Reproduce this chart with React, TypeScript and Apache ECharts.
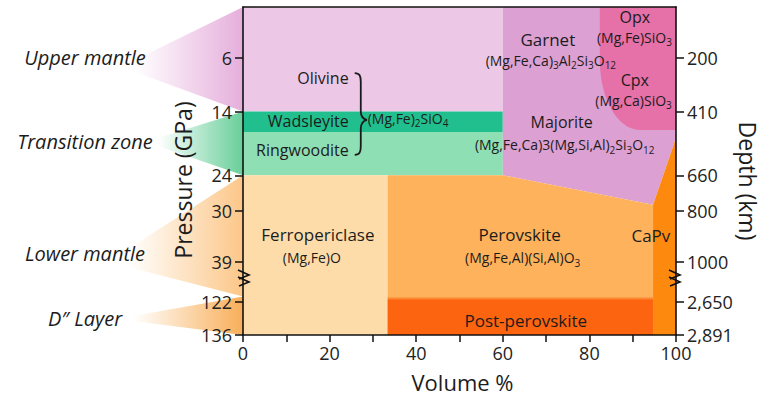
import React, { useEffect, useRef } from "react";
import * as echarts from "echarts";

// ---------------- Data ----------------
const volumeMin = 0;
const volumeMax = 100;
const volumeStep = 10;
const volumeLabelStep = 20;

const depthTicks = [200, 410, 660, 800, 1000, 2650, 2891];
const depthTickLabels = ["200", "410", "660", "800", "1000", "2,650", "2,891"];
const pressureTickLabels = ["6", "14", "24", "30", "39", "122", "136"];

// depth axis break (km)
const breakFrom = 1000;
const breakTo = 2650;
const cmbDepth = 2891;

// phase boundaries: [volume %, depth km]
const olivinePts = [[0, 0], [60, 0], [60, 410], [0, 410]];
const wadsleyitePts = [[0, 410], [60, 410], [60, 490], [0, 490]];
const ringwooditePts = [[0, 490], [60, 490], [60, 660], [0, 660]];
const garnetPts = [[60, 0], [100, 0], [100, 514], [94.7, 776], [60, 660]];
const pyroxeneBox = [[82.4, 0], [100, 482]];
const ferropericlasePts = [[0, 660], [33.4, 660], [33.4, 2891], [0, 2891]];
const perovskitePts = [[33.4, 660], [60, 660], [94.7, 776], [94.7, 2891], [33.4, 2891]];
const caPvPts = [[94.7, 776], [100, 514], [100, 2891], [94.7, 2891]];
const postPerovskiteBox = [[33.4, 2420], [94.7, 2891]];

const layerNames = ["Upper mantle", "Transition zone", "Lower mantle", "D\u2033 Layer"];
const layerRanges = [[0, 410], [410, 660], [660, 2420], [2420, 2891]];

// ---------------- Layout / style ----------------
const FONT = '"Open Sans", "Noto Sans", sans-serif';
const TXT = "#1c1c1c";
const BREAK_UNITS = 157;
const LOWER_SCALE = 0.537;

function toU(d: number): number {
  if (d <= breakFrom) return d;
  if (d < breakTo) return breakFrom + ((d - breakFrom) / (breakTo - breakFrom)) * BREAK_UNITS;
  return breakFrom + BREAK_UNITS + (d - breakTo) * LOWER_SCALE;
}
const U_MAX = toU(cmbDepth);
const tickU = depthTicks.map(toU);
function nearestIdx(v: number) {
  let best = 0;
  tickU.forEach((t, i) => {
    if (Math.abs(t - v) < Math.abs(tickU[best] - v)) best = i;
  });
  return best;
}

const C = {
  olivine: "#ecc8e6",
  wadsleyite: "#22bf8e",
  ringwoodite: "#8edfb4",
  garnet: "#dda0d2",
  pyroxene: "#e670a8",
  fp: "#fedcaa",
  pv: "#fdb25b",
  ppv: "#fd6410",
  capv: "#fd8a0e",
};

const regions: any[] = [
  { pts: olivinePts, fill: C.olivine },
  { pts: wadsleyitePts, fill: C.wadsleyite },
  { pts: ringwooditePts, fill: C.ringwoodite },
  { pts: garnetPts, fill: C.garnet },
  { box: pyroxeneBox, fill: C.pyroxene, corner: [40, 70] },
  { pts: ferropericlasePts, fill: C.fp },
  { pts: perovskitePts, fill: C.pv },
  { pts: caPvPts, fill: C.capv },
  { box: postPerovskiteBox, grad: true },
];

const rich = {
  n: { fontSize: 14, lineHeight: 20, fontFamily: FONT, fill: TXT },
  s: { fontSize: 10, lineHeight: 9, verticalAlign: "bottom", fontFamily: FONT, fill: TXT },
  m: { fontSize: 16, lineHeight: 22, fontFamily: FONT, fill: TXT },
};

const labels: any[] = [
  { t: "{m|Olivine}", v: 24.4, d: 278, align: "right" },
  { t: "{m|Wadsleyite}", v: 24.4, d: 447, align: "right" },
  { t: "{m|Ringwoodite}", v: 24.4, d: 561, align: "right" },
  { t: "{n|(Mg,Fe)}{s|2}{n|SiO}{s|4}", v: 28.8, d: 437, align: "left" },
  { t: "{m|Garnet}", v: 70.4, d: 129, size: 17 },
  { t: "{n|(Mg,Fe,Ca)}{s|3}{n|Al}{s|2}{n|Si}{s|3}{n|O}{s|12}", v: 71.1, d: 208 },
  { t: "{m|Opx}", v: 90.5, d: 38 },
  { t: "{n|(Mg,Fe)SiO}{s|3}", v: 90.4, d: 118 },
  { t: "{m|Cpx}", v: 90.5, d: 286 },
  { t: "{n|(Mg,Ca)SiO}{s|3}", v: 90.2, d: 365 },
  { t: "{m|Majorite}", v: 73.6, d: 451 },
  { t: "{n|(Mg,Fe,Ca)3(Mg,Si,Al)}{s|2}{n|Si}{s|3}{n|O}{s|12}", v: 74.3, d: 541 },
  { t: "{b|Ferropericlase}", v: 17.3, d: 894 },
  { t: "{n|(Mg,Fe)O}", v: 15.9, d: 984 },
  { t: "{b|Perovskite}", v: 63.9, d: 894 },
  { t: "{n|(Mg,Fe,Al)(Si,Al)O}{s|3}", v: 64.6, d: 984 },
  { t: "{b|CaPv}", v: 94.2, d: 898 },
  { t: "{b|Post-perovskite}", v: 65.3, d: 2788 },
];
const braceBox = [[25.8, 259], [28.6, 580]];
const bracePath =
  "M0,0 C5,0 6,3 6,9 L6,38 C6,43 8,46 12,47 C8,48 6,51 6,56 L6,73 C6,79 5,82 0,82";

const axisCommon = {
  axisLine: { show: true, onZero: false, lineStyle: { color: "#111", width: 1.6 } },
  splitLine: { show: false },
  z: 10,
};

export default function App() {
  const ref = useRef<HTMLDivElement>(null);
  useEffect(() => {
    document.body.style.margin = "0";
    const chart = echarts.init(ref.current!, null, { renderer: "svg" });
    const yAxisBase = (pos: "left" | "right", texts: string[]) => ({
      type: "value",
      position: pos,
      min: 0,
      max: U_MAX,
      inverse: true,
      ...axisCommon,
      axisTick: {
        show: true,
        customValues: tickU,
        length: 8,
        lineStyle: { color: "#111", width: 1.5 },
      },
      axisLabel: {
        customValues: tickU,
        formatter: (v: number) => texts[nearestIdx(v)],
        fontSize: 18,
        fontFamily: FONT,
        color: "#222",
        margin: 11,
      },
    });
    const option: any = {
      animation: false,
      grid: { left: 243, right: 87, top: 7, bottom: 61, outerBoundsMode: "none" },
      xAxis: [
        {
          type: "value",
          min: volumeMin,
          max: volumeMax,
          interval: volumeStep,
          ...axisCommon,
          axisTick: { show: true, length: 7, lineStyle: { color: "#111", width: 1.5 } },
          axisLabel: {
            formatter: (v: number) => (v % volumeLabelStep === 0 ? String(v) : ""),
            fontSize: 18,
            fontFamily: FONT,
            color: "#222",
            margin: 9,
          },
        },
        {
          type: "value",
          position: "top",
          min: volumeMin,
          max: volumeMax,
          ...axisCommon,
          axisTick: { show: false },
          axisLabel: { show: false },
        },
      ],
      yAxis: [yAxisBase("left", pressureTickLabels), yAxisBase("right", depthTickLabels)],
      series: [
        {
          type: "custom",
          name: "phases",
          xAxisIndex: 0,
          yAxisIndex: 0,
          data: regions.map((_, i) => [i, 0]),
          renderItem: (params: any, api: any) => {
            const r = regions[params.dataIndex];
            if (r.pts) {
              const points = r.pts.map((p: number[]) => api.coord([p[0], toU(p[1])]));
              return { type: "polygon", shape: { points }, style: { fill: r.fill } };
            }
            const a = api.coord([r.box[0][0], toU(r.box[0][1])]);
            const b = api.coord([r.box[1][0], toU(r.box[1][1])]);
            if (r.corner) {
              const [rx, ry] = r.corner;
              const pts: number[][] = [
                [a[0], a[1]],
                [b[0], a[1]],
                [b[0], b[1]],
              ];
              for (let k = 0; k <= 24; k++) {
                const t = (Math.PI / 2) * (k / 24);
                pts.push([a[0] + rx - rx * Math.sin(t), b[1] - ry + ry * Math.cos(t)]);
              }
              return { type: "polygon", shape: { points: pts }, style: { fill: r.fill } };
            }
            return {
              type: "rect",
              shape: { x: a[0], y: a[1], width: b[0] - a[0], height: b[1] - a[1] },
              style: {
                fill: new echarts.graphic.LinearGradient(0, 0, 0, 1, [
                  { offset: 0, color: C.pv },
                  { offset: 0.1, color: C.ppv },
                  { offset: 1, color: C.ppv },
                ]),
              },
            };
          },
          silent: true,
        },
        {
          type: "custom",
          name: "labels",
          xAxisIndex: 0,
          yAxisIndex: 0,
          z: 5,
          data: labels.map((_, i) => [i, 0]).concat([[labels.length, 0]]),
          renderItem: (params: any, api: any) => {
            if (params.dataIndex === labels.length) {
              const a = api.coord([braceBox[0][0], toU(braceBox[0][1])]);
              const b = api.coord([braceBox[1][0], toU(braceBox[1][1])]);
              return {
                type: "path",
                shape: {
                  pathData: bracePath,
                  x: a[0],
                  y: a[1],
                  width: b[0] - a[0],
                  height: b[1] - a[1],
                  layout: "cover",
                },
                style: { fill: "none", stroke: "#1a1a1a", lineWidth: 1.8, strokeNoScale: true },
              };
            }
            const l = labels[params.dataIndex];
            const p = api.coord([l.v, toU(l.d)]);
            return {
              type: "text",
              x: p[0],
              y: p[1],
              style: {
                text: l.t,
                align: l.align || "center",
                verticalAlign: "middle",
                fontFamily: FONT,
                fill: TXT,
                rich: {
                  ...rich,
                  m: { ...rich.m, fontSize: l.size || 16 },
                  b: { fontSize: 17, lineHeight: 22, fontFamily: FONT, fill: TXT },
                },
              },
            };
          },
          silent: true,
        },
      ],
    };
    chart.setOption(option);

    const toPx = (v: number, d: number) =>
      chart.convertToPixel({ xAxisIndex: 0, yAxisIndex: 0 }, [v, toU(d)]) as number[];
    const x0 = toPx(0, 0)[0];
    const x1 = toPx(100, 0)[0];
    const yb = toPx(0, cmbDepth)[1];
    const fanColors = [
      [228, 170, 218],
      [96, 204, 148],
      [252, 196, 130],
      [248, 170, 80],
    ];
    const labelDepth = [200, 529, 965, 2767];
    const tipDx = [108, 85, 115, 110];
    const tipOff = [[2, 14], [-4, 4], [-4, 14], [-2, 3]];
    const graphic: any[] = [];
    layerNames.forEach((name, i) => {
      const yTop = toPx(0, layerRanges[i][0])[1];
      const yBot = toPx(0, layerRanges[i][1])[1];
      const ly = toPx(0, labelDepth[i])[1];
      const [r, g, b] = fanColors[i];
      graphic.push({
        type: "polygon",
        z: 1,
        silent: true,
        shape: {
          points: [
            [x0, yTop],
            [x0, yBot],
            [x0 - tipDx[i], ly + tipOff[i][1]],
            [x0 - tipDx[i], ly + tipOff[i][0]],
          ],
        },
        style: {
          fill: new echarts.graphic.LinearGradient(0, 0, 1, 0, [
            { offset: 0, color: `rgba(${r},${g},${b},0)` },
            { offset: 1, color: `rgba(${r},${g},${b},0.95)` },
          ]),
        },
      });
      graphic.push({
        type: "text",
        z: 3,
        x: 85,
        y: ly,
        style: {
          text: name,
          fontSize: 20,
          fontStyle: "italic",
          fontFamily: FONT,
          fill: TXT,
          align: "center",
          verticalAlign: "middle",
        },
      });
    });
    // axis titles
    graphic.push(
      {
        type: "text",
        z: 3,
        x: 183,
        y: 180,
        rotation: Math.PI / 2,
        style: { text: "Pressure (GPa)", fontSize: 23, fontFamily: FONT, fill: TXT, align: "center", verticalAlign: "middle" },
      },
      {
        type: "text",
        z: 3,
        x: 748,
        y: 181,
        rotation: -Math.PI / 2,
        style: { text: "Depth (km)", fontSize: 23, fontFamily: FONT, fill: TXT, align: "center", verticalAlign: "middle" },
      },
      {
        type: "text",
        z: 3,
        x: (x0 + x1) / 2 + 3,
        y: yb + 47,
        style: { text: "Volume %", fontSize: 22, fontFamily: FONT, fill: TXT, align: "center", verticalAlign: "middle" },
      }
    );
    // axis break marks
    const yBrk = (toPx(0, breakFrom)[1] + toPx(0, breakTo)[1]) / 2 - 4;
    [x0 + 1, x1 - 1].forEach((ax) => {
      [0, 7].forEach((k) => {
        graphic.push({
          type: "polyline",
          z: 30,
          silent: true,
          shape: {
            points: [
              [ax - 6, yBrk - 8 + k],
              [ax + 5, yBrk - 3 + k],
              [ax - 5, yBrk + 1 + k],
            ],
          },
          style: { stroke: "#111", lineWidth: 1.6, fill: "none" },
        });
      });
    });
    chart.setOption({ graphic });
    return () => chart.dispose();
  }, []);
  return <div ref={ref} style={{ width: 763, height: 396 }} />;
}
